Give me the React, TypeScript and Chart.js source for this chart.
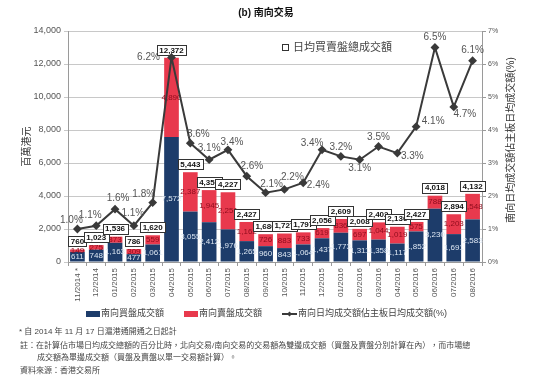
import React, { useEffect, useRef } from "react";
import { Chart, registerables } from "chart.js";

Chart.register(...registerables);

const FONT = '"Liberation Sans", "Noto Sans CJK TC", Arial, sans-serif';

const categories = [
  "11/2014 *", "12/2014", "01/2015", "02/2015", "03/2015", "04/2015", "05/2015", "06/2015",
  "07/2015", "08/2015", "09/2015", "10/2015", "11/2015", "12/2015", "01/2016", "02/2016",
  "03/2016", "04/2016", "05/2016", "06/2016", "07/2016", "08/2016",
];
const buyValues = [611, 748, 1163, 477, 1061, 7572, 3055, 2412, 1976, 1265, 960, 843, 1064, 1437, 1773, 1311, 1358, 1117, 1852, 3230, 1691, 2583];
const sellValues = [149, 275, 373, 309, 559, 4800, 2387, 1945, 2251, 1162, 726, 883, 733, 619, 836, 697, 1044, 1019, 575, 788, 1203, 1548];
const sellLabels = ["149", "275", "373", "309", "559", "4,890", "2,387", "1,945", "2,251", "1,162", "726", "883", "733", "619", "836", "697", "1,044", "1,019", "575", "788", "1,203", "1,548"];
const totalValues = [760, 1023, 1536, 786, 1620, 12372, 5443, 4357, 4227, 2427, 1686, 1727, 1797, 2056, 2609, 2008, 2402, 2136, 2427, 4018, 2894, 4132];
const pctValues = [1.0, 1.1, 1.6, 1.1, 1.8, 6.2, 3.6, 3.1, 3.4, 2.6, 2.1, 2.2, 2.4, 3.4, 3.2, 3.1, 3.5, 3.3, 4.1, 6.5, 4.7, 6.1];
const leftTicks = [0, 2000, 4000, 6000, 8000, 10000, 12000, 14000];
const rightTicks = [0, 1, 2, 3, 4, 5, 6, 7];

const titleText = "(b) 南向交易";
const leftAxisTitle = "百萬港元";
const rightAxisTitle = "南向日均成交額佔主板日均成交額(%)";
const boxLegendText = "日均買賣盤總成交額";
const legendLabels = ["南向買盤成交額", "南向賣盤成交額", "南向日均成交額佔主板日均成交額(%)"];
const footnotes = [
  "* 自 2014 年 11 月 17 日滬港通開通之日起計",
  "註：在計算佔市場日均成交總額的百分比時，北向交易/南向交易的交易額為雙邊成交額（買盤及賣盤分別計算在內），而市場總",
  "成交額為單邊成交額（買盤及賣盤以單一交易額計算）。",
  "資料來源：香港交易所",
];

const BLUE = "#1d3c6a";
const RED = "#e8394d";
const LINE = "#3a3a3a";

// label offsets (dx, dy) of percentage labels relative to their points
const pctOffsets: [number, number][] = [
  [-6, -9], [-6, -10], [3, -11], [-1, -12], [-9, -8], [-23, 0], [8, -9], [0, -11],
  [4, -8], [5, -10], [6, -8], [8, -12], [15, 2], [-10, -7], [0, -9], [0, 9],
  [0, -9], [15, 3], [17, -5], [0, -10], [11, 7], [0, -10],
];

const fmt = (v: number) => v.toLocaleString("en-US");

const decorPlugin = {
  id: "decor",
  beforeDatasetDraw(chart: any, args: any) {
    if (args.index !== 2) return;
    const ctx = chart.ctx as CanvasRenderingContext2D;
    const mBuy = chart.getDatasetMeta(0);
    const mSell = chart.getDatasetMeta(1);
    ctx.save();
    ctx.textAlign = "center";
    ctx.textBaseline = "middle";
    ctx.font = `8px ${FONT}`;
    mBuy.data.forEach((bar: any, i: number) => {
      const p = bar.getProps(["x", "y", "base"], true);
      ctx.fillStyle = "#dce6f2";
      ctx.fillText(fmt(buyValues[i]), p.x, (p.y + p.base) / 2);
    });
    mSell.data.forEach((bar: any, i: number) => {
      const p = bar.getProps(["x", "y", "base"], true);
      ctx.fillStyle = "#8e0c1c";
      ctx.fillText(sellLabels[i], p.x, (p.y + p.base) / 2);
    });
    ctx.font = `bold 8px ${FONT}`;
    mSell.data.forEach((bar: any, i: number) => {
      const p = bar.getProps(["x", "y"], true);
      const t = fmt(totalValues[i]);
      const w = ctx.measureText(t).width + 5;
      const h = 10;
      const cy = p.y - 8;
      ctx.fillStyle = "#ffffff";
      ctx.fillRect(Math.round(p.x - w / 2) + 0.5, Math.round(cy - h / 2) + 0.5, Math.round(w), h);
      ctx.strokeStyle = "#333333";
      ctx.lineWidth = 1;
      ctx.strokeRect(Math.round(p.x - w / 2) + 0.5, Math.round(cy - h / 2) + 0.5, Math.round(w), h);
      ctx.fillStyle = "#111111";
      ctx.fillText(t, p.x, cy + 0.5);
    });
    ctx.restore();
  },
  afterDatasetsDraw(chart: any) {
    const ctx = chart.ctx as CanvasRenderingContext2D;
    const mLine = chart.getDatasetMeta(2);
    ctx.save();
    ctx.font = `10px ${FONT}`;
    ctx.fillStyle = "#555555";
    ctx.textAlign = "center";
    ctx.textBaseline = "middle";
    mLine.data.forEach((pt: any, i: number) => {
      const p = pt.getProps(["x", "y"], true);
      const [dx, dy] = pctOffsets[i];
      ctx.fillText(pctValues[i].toFixed(1) + "%", p.x + dx, p.y + dy);
    });
    ctx.restore();
  },
  afterDraw(chart: any) {
    const ctx = chart.ctx as CanvasRenderingContext2D;
    const area = chart.chartArea;
    ctx.save();
    // title
    ctx.fillStyle = "#111111";
    ctx.font = `bold 10px ${FONT}`;
    ctx.textAlign = "center";
    ctx.textBaseline = "middle";
    ctx.fillText(titleText, 266, 13);

    // axis titles
    ctx.font = `10px ${FONT}`;
    ctx.fillStyle = "#333333";
    ctx.save();
    ctx.translate(27, (area.top + area.bottom) / 2);
    ctx.rotate(-Math.PI / 2);
    ctx.fillText(leftAxisTitle, 0, 0);
    ctx.restore();
    ctx.save();
    ctx.translate(511, 140);
    ctx.rotate(-Math.PI / 2);
    ctx.fillText(rightAxisTitle, 0, 0);
    ctx.restore();

    // in-plot legend
    ctx.strokeStyle = "#333333";
    ctx.lineWidth = 1;
    ctx.fillStyle = "#ffffff";
    ctx.fillRect(282.5, 44.5, 6, 6);
    ctx.strokeRect(282.5, 44.5, 6, 6);
    ctx.fillStyle = "#444444";
    ctx.font = `11px ${FONT}`;
    ctx.textAlign = "left";
    ctx.fillText(boxLegendText, 293, 48);

    // bottom legend
    ctx.font = `9px ${FONT}`;
    const ly = 314;
    ctx.fillStyle = BLUE;
    ctx.fillRect(86, ly - 3, 14, 6);
    ctx.fillStyle = "#444444";
    ctx.fillText(legendLabels[0], 101, ly);
    ctx.fillStyle = RED;
    ctx.fillRect(184, ly - 3, 14, 6);
    ctx.fillStyle = "#444444";
    ctx.fillText(legendLabels[1], 199, ly);
    ctx.strokeStyle = LINE;
    ctx.lineWidth = 2;
    ctx.beginPath();
    ctx.moveTo(282, ly);
    ctx.lineTo(297, ly);
    ctx.stroke();
    ctx.fillStyle = LINE;
    ctx.beginPath();
    ctx.moveTo(289.5, ly - 2.5);
    ctx.lineTo(292, ly);
    ctx.lineTo(289.5, ly + 2.5);
    ctx.lineTo(287, ly);
    ctx.closePath();
    ctx.fill();
    ctx.fillStyle = "#444444";
    ctx.fillText(legendLabels[2], 298, ly);

    // footnotes
    ctx.font = `8px ${FONT}`;
    ctx.fillStyle = "#444444";
    ctx.fillText(footnotes[0], 19, 332);
    ctx.fillText(footnotes[1], 20, 346, 464);
    ctx.fillText(footnotes[2], 37, 358);
    ctx.fillText(footnotes[3], 20, 371);
    ctx.restore();
  },
};

export default function App() {
  const ref = useRef<HTMLCanvasElement | null>(null);
  useEffect(() => {
    if (!ref.current) return;
    const chart = new Chart(ref.current, {
      type: "bar",
      data: {
        labels: categories,
        datasets: [
          {
            type: "bar",
            label: legendLabels[0],
            data: buyValues,
            backgroundColor: BLUE,
            stack: "s",
            yAxisID: "y",
            order: 2,
            barPercentage: 0.78,
            categoryPercentage: 1,
          },
          {
            type: "bar",
            label: legendLabels[1],
            data: sellValues,
            backgroundColor: RED,
            stack: "s",
            yAxisID: "y",
            order: 2,
            barPercentage: 0.78,
            categoryPercentage: 1,
          },
          {
            type: "line",
            label: legendLabels[2],
            data: pctValues,
            borderColor: LINE,
            borderWidth: 2,
            pointStyle: "rectRot",
            pointRadius: 3,
            pointBackgroundColor: LINE,
            pointBorderColor: LINE,
            yAxisID: "y1",
            order: 1,
            tension: 0,
          } as any,
        ],
      },
      options: {
        responsive: false,
        animation: false,
        layout: { padding: { left: 28, right: 42, top: 31, bottom: 78 } },
        plugins: { legend: { display: false }, tooltip: { enabled: false }, title: { display: false } },
        scales: {
          x: {
            stacked: true,
            grid: { display: true, drawOnChartArea: false, drawTicks: true, tickLength: 4, color: "#9a9a9a", offset: true },
            border: { display: true, color: "#9a9a9a" },
            ticks: {
              autoSkip: false,
              minRotation: 90,
              maxRotation: 90,
              padding: 2,
              color: "#555555",
              font: { size: 8, family: FONT },
            },
            afterFit(scale: any) {
              scale.height = 45;
            },
          },
          y: {
            stacked: true,
            position: "left",
            min: 0,
            max: 14000,
            afterBuildTicks(scale: any) {
              scale.ticks = leftTicks.map((v) => ({ value: v }));
            },
            grid: { color: "#c8c8c8", tickLength: 4, drawTicks: true },
            border: { display: true, color: "#9a9a9a" },
            ticks: {
              color: "#555555",
              padding: 3,
              font: { size: 9, family: FONT },
              callback: (v: any) => fmt(Number(v)),
            },
            afterFit(scale: any) {
              scale.width = 40;
            },
          },
          y1: {
            position: "right",
            min: 0,
            max: 7,
            afterBuildTicks(scale: any) {
              scale.ticks = rightTicks.map((v) => ({ value: v }));
            },
            grid: { drawOnChartArea: false, tickLength: 4, color: "#9a9a9a" },
            border: { display: true, color: "#9a9a9a" },
            ticks: {
              color: "#555555",
              padding: 2,
              font: { size: 7, family: FONT },
              callback: (v: any) => v + "%",
            },
            afterFit(scale: any) {
              scale.width = 30;
            },
          },
        },
      },
      plugins: [decorPlugin],
    });
    return () => chart.destroy();
  }, []);
  return (
    <div style={{ position: "absolute", left: 0, top: 0, width: 554, height: 385, background: "#fff" }}>
      <canvas ref={ref} width={554} height={385} style={{ display: "block" }} />
    </div>
  );
}
